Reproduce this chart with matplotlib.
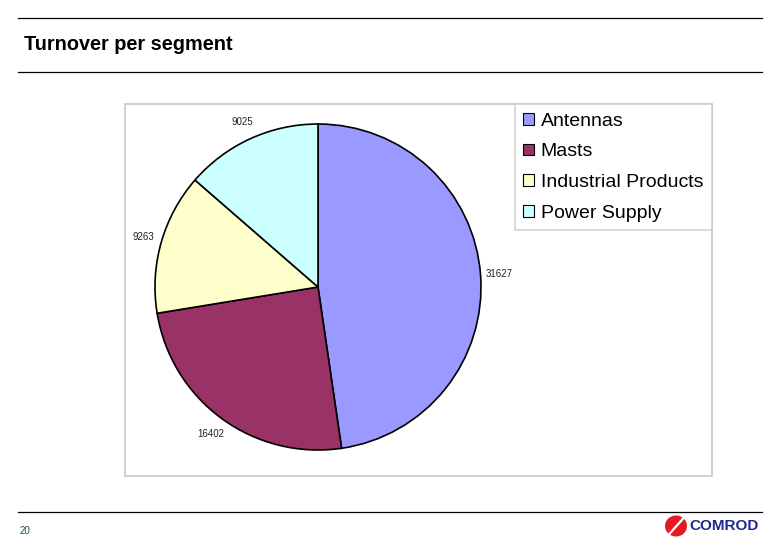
import matplotlib
matplotlib.use("Agg")
import matplotlib.pyplot as plt
from matplotlib.patches import Rectangle, Patch, Ellipse, Polygon
from matplotlib.lines import Line2D

plt.rcParams['font.family'] = ['Liberation Sans', 'DejaVu Sans']

# Data
segments = ["Antennas", "Masts", "Industrial Products", "Power Supply"]
turnover = [31627, 16402, 9263, 9025]
colors = ["#9999FF", "#993366", "#FFFFCC", "#CCFFFF"]
title = "Turnover per segment"
page_number = "20"

W, H = 780, 540
fig = plt.figure(figsize=(W / 100, H / 100), dpi=100)
fig.patch.set_facecolor("white")

def fx(px):
    return px / W

def fy(py):
    return 1 - py / H

# Header / footer rules
for y in (18, 72, 512):
    fig.add_artist(Line2D([fx(18), fx(762)], [fy(y), fy(y)], color="black", lw=0.9,
                          transform=fig.transFigure))

fig.text(fx(24), fy(45), title, fontsize=14.3, fontweight="bold", va="center", ha="left")

# Chart area frame
fig.add_artist(Rectangle((fx(125), fy(476)), fx(712) - fx(125), fy(104) - fy(476),
                         transform=fig.transFigure, facecolor="white",
                         edgecolor="#C8C8C8", lw=1.2, zorder=0))

# Pie axes
cx, cy, r = 318, 287, 163
scale = 1.3
half = r * scale
ax = fig.add_axes([fx(cx - half), fy(cy + half), 2 * half / W, 2 * half / H])
ax.set_xlim(-scale, scale)
ax.set_ylim(-scale, scale)
ax.set_aspect("equal")
ax.axis("off")
wedges, texts = ax.pie(turnover, colors=colors, startangle=90, counterclock=False,
                       labels=[str(v) for v in turnover], labeldistance=1.115,
                       wedgeprops=dict(edgecolor="black", linewidth=1.2),
                       textprops=dict(fontsize=7, color="#222222"))
for t in texts:
    t.set_ha("center")
    t.set_va("center")
ax.set_xlim(-scale, scale)
ax.set_ylim(-scale, scale)

# Legend
handles = [Patch(facecolor=c, edgecolor="black", lw=0.8) for c in colors]
leg = fig.legend(handles, segments, loc="upper right",
                 bbox_to_anchor=(fx(712), fy(104)), bbox_transform=fig.transFigure,
                 fontsize=14, frameon=True, fancybox=False, borderaxespad=0,
                 handlelength=0.55, handleheight=0.55, handletextpad=0.35,
                 labelspacing=0.70, borderpad=0.45)
leg.get_frame().set_edgecolor("#C8C8C8")
leg.get_frame().set_linewidth(1.2)

# Footer
fig.text(fx(20), fy(531), page_number, fontsize=7, color="#1F4F4F", va="center", ha="left")

# Logo
lax = fig.add_axes([fx(664), fy(537), fx(760) - fx(664), fy(515) - fy(537)])
lax.set_xlim(0, 96)
lax.set_ylim(0, 22)
lax.axis("off")
lax.add_patch(Ellipse((12, 11), 22, 21, facecolor="#E31B23", edgecolor="none"))
lax.add_patch(Polygon([[3, 2], [6, 2], [22, 20], [19, 20]], closed=True,
                      facecolor="white", edgecolor="none"))
lax.text(25, 11, "COMROD", fontsize=11, fontweight="bold", color="#1C2A8C",
         va="center", ha="left")

fig.savefig("out.png", dpi=100)
